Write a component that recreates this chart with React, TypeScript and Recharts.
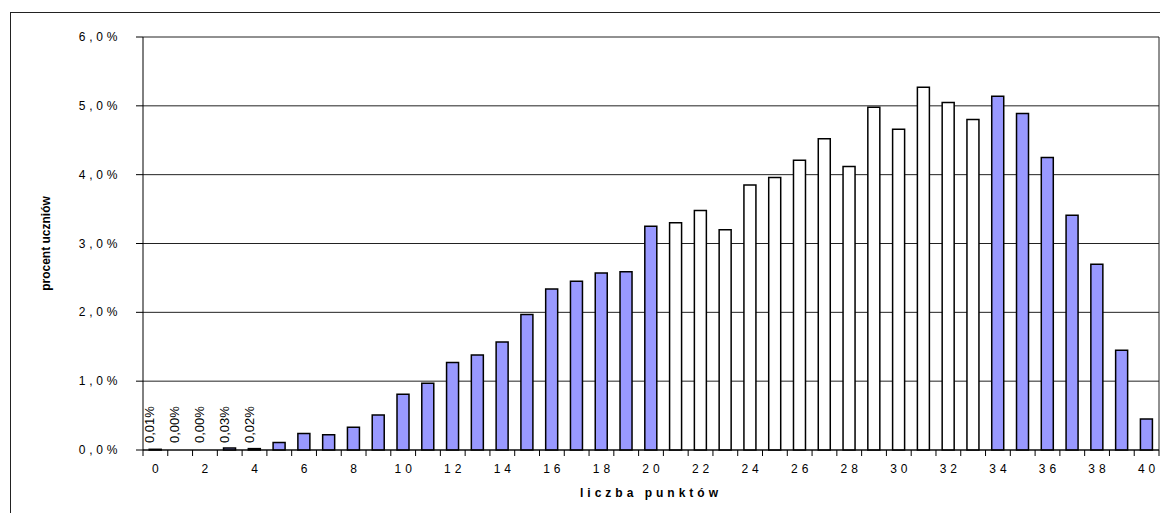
import React from 'react';
import { Bar, CartesianGrid, Cell, ComposedChart, LabelList, Line, XAxis, YAxis } from 'recharts';

const points = [
  0, 1, 2, 3, 4, 5, 6, 7, 8, 9, 10, 11, 12, 13, 14, 15, 16, 17, 18, 19, 20,
  21, 22, 23, 24, 25, 26, 27, 28, 29, 30, 31, 32, 33, 34, 35, 36, 37, 38, 39, 40,
];

// percent of students per score
const percents = [
  0.01, 0.0, 0.0, 0.03, 0.02, 0.11, 0.24, 0.22, 0.33, 0.51, 0.81, 0.97, 1.27, 1.38,
  1.57, 1.97, 2.34, 2.45, 2.57, 2.59, 3.25, 3.3, 3.48, 3.2, 3.85, 3.96, 4.21, 4.52,
  4.12, 4.98, 4.66, 5.27, 5.05, 4.8, 5.14, 4.89, 4.25, 3.41, 2.7, 1.45, 0.45,
];

// scores drawn as hollow bars
const whitePoints = [21, 22, 23, 24, 25, 26, 27, 28, 29, 30, 31, 32, 33];

// scores that carry a value label
const labelledPoints = [0, 1, 2, 3, 4];

const yTicks = [0, 1, 2, 3, 4, 5, 6];

const data = points.map((p, i) => ({
  p,
  v: percents[i],
  lab: labelledPoints.includes(p) ? percents[i] : null,
}));

const FONT = '"Liberation Sans", Arial, sans-serif';
const BLUE = '#9999FF';

const fmtPct = (v: number, digits: number) => v.toFixed(digits).replace('.', ',') + '%';

const XTick = (props: any) => {
  const { x, y, payload, index, width } = props;
  const half = width / points.length / 2;
  const last = index === points.length - 1;
  return (
    <g>
      <line x1={x - half} y1={y} x2={x - half} y2={y + 6} stroke="#000" />
      {last && <line x1={x + half} y1={y} x2={x + half} y2={y + 6} stroke="#000" />}
      {payload.value % 2 === 0 && (
        <text
          x={x + 2}
          y={y + 23}
          textAnchor="middle"
          fontFamily={FONT}
          fontSize={12}
          fill="#000"
          style={{ letterSpacing: 4 }}
        >
          {payload.value}
        </text>
      )}
    </g>
  );
};

const YTick = (props: any) => {
  const { x, y, payload } = props;
  return (
    <text
      x={x - 15}
      y={y + 4}
      textAnchor="end"
      fontFamily={FONT}
      fontSize={12}
      fill="#000"
      style={{ letterSpacing: 3.7 }}
    >
      {fmtPct(payload.value, 1)}
    </text>
  );
};

const BarValue = (props: any) => {
  const { x, value, viewBox } = props;
  if (value === null || value === undefined) return null;
  const px = viewBox && viewBox.x !== undefined ? viewBox.x : x;
  const cx = px - 1;
  const cy = 435;
  return (
    <text
      x={cx}
      y={cy}
      transform={`rotate(-90 ${cx} ${cy})`}
      fontFamily={FONT}
      fontSize={13}
      fill="#000"
    >
      {fmtPct(value, 2)}
    </text>
  );
};

const App = () => {
  return (
    <div style={{ position: 'relative', width: 1160, height: 505, overflow: 'hidden' }}>
      <div
        style={{
          position: 'absolute',
          left: 2,
          top: 4,
          width: 1300,
          height: 700,
          borderLeft: '1.5px solid #222',
          borderTop: '1.5px solid #222',
        }}
      />
      <ComposedChart
        width={1160}
        height={505}
        data={data}
        margin={{ top: 29, right: 9, left: 0, bottom: 33 }}
        barCategoryGap="25%"
        style={{ position: 'absolute', left: 0, top: 0 }}
      >
        <CartesianGrid
          stroke="#222"
          vertical={true}
          verticalCoordinatesGenerator={({ offset }: any) => [offset.left + offset.width]}
        />
        <XAxis
          dataKey="p"
          interval={0}
          tickSize={0}
          tickMargin={0}
          height={30}
          axisLine={{ stroke: '#000' }}
          tick={<XTick />}
          label={{
            content: ({ viewBox }: any) => (
              <text
                x={viewBox.x + viewBox.width / 2}
                y={viewBox.y + 47}
                textAnchor="middle"
                fontFamily={FONT}
                fontSize={12}
                fontWeight="bold"
                fill="#000"
                style={{ letterSpacing: 4 }}
              >
                liczba punktów
              </text>
            ),
          }}
        />
        <YAxis
          width={135}
          domain={[0, 6]}
          ticks={yTicks}
          interval={0}
          tickSize={7}
          tickMargin={0}
          axisLine={{ stroke: '#000' }}
          tickLine={{ stroke: '#000' }}
          tick={<YTick />}
          label={{
            content: ({ viewBox }: any) => {
              const cx = 42;
              const cy = viewBox.y + viewBox.height / 2;
              return (
                <text
                  x={cx}
                  y={cy}
                  transform={`rotate(-90 ${cx} ${cy})`}
                  textAnchor="middle"
                  fontFamily={FONT}
                  fontSize={12}
                  fontWeight="bold"
                  fill="#000"
                >
                  procent uczniów
                </text>
              );
            },
          }}
        />
        <Bar dataKey="v" stroke="#000" strokeWidth={1.5} isAnimationActive={false}>
          {data.map((d) => (
            <Cell key={d.p} fill={whitePoints.includes(d.p) ? '#fff' : BLUE} />
          ))}
        </Bar>
        <Line
          dataKey="lab"
          stroke="none"
          dot={false}
          activeDot={false}
          legendType="none"
          isAnimationActive={false}
        >
          <LabelList dataKey="lab" content={<BarValue />} />
        </Line>
      </ComposedChart>
    </div>
  );
};

export default App;
